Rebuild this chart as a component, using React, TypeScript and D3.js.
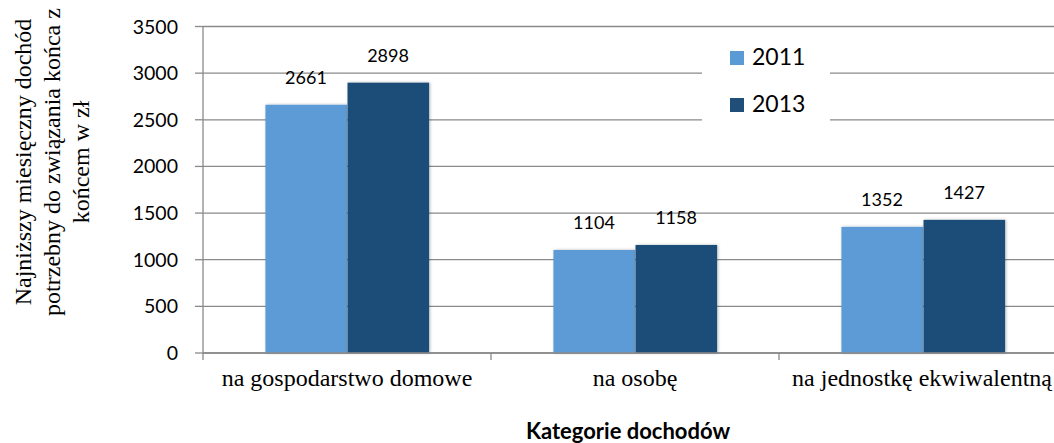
import React from "react";
import * as d3 from "d3";

const categories = ["na gospodarstwo domowe", "na osobę", "na jednostkę ekwiwalentną"];
const seriesNames = ["2011", "2013"];
const values2011 = [2661, 1104, 1352];
const values2013 = [2898, 1158, 1427];
const yTicks = [0, 500, 1000, 1500, 2000, 2500, 3000, 3500];
const yTitleLines = ["Najniższy miesięczny dochód", "potrzebny do związania końca z", "końcem w zł"];
const xTitle = "Kategorie dochodów";
const colors = ["#5B9BD5", "#1F4E79"];

const W = 1054;
const H = 443;
const plotLeft = 203;
const step = 288;
const y0px = 353;
const yTopPx = 26.5;
const grid = "#8a8a8a";
const sans = "Lato, 'Open Sans', sans-serif";
const serif = "'Liberation Serif', 'DejaVu Serif', serif";

export default function App() {
  const x0 = d3
    .scaleBand<string>()
    .domain(categories)
    .range([plotLeft, plotLeft + step * categories.length])
    .paddingInner(0.43)
    .paddingOuter(0.215);
  const x1 = d3.scaleBand<string>().domain(seriesNames).range([0, x0.bandwidth()]).padding(0);
  const y = d3.scaleLinear().domain([0, 3500]).range([y0px, yTopPx]);
  const series = [values2011, values2013];
  const boundaries = d3.range(categories.length + 1).map((i) => plotLeft + i * x0.step());

  return (
    <svg
      width={W}
      height={H}
      style={{ position: "absolute", left: 0, top: 0, display: "block", background: "#fff" }}
    >
      <defs>
        <filter id="sh" x="-20%" y="-20%" width="140%" height="140%">
          <feDropShadow dx="1" dy="0" stdDeviation="1.6" floodColor="#000" floodOpacity="0.28" />
        </filter>
      </defs>
      {yTicks.map((t) => (
        <line key={"g" + t} x1={plotLeft} x2={W} y1={y(t)} y2={y(t)} stroke={grid} strokeWidth={1.3} />
      ))}
      <line x1={plotLeft} x2={plotLeft} y1={y(0)} y2={y(3500)} stroke={grid} strokeWidth={1.3} />
      {yTicks.map((t) => (
        <g key={"t" + t}>
          <line x1={plotLeft - 8} x2={plotLeft} y1={y(t)} y2={y(t)} stroke={grid} strokeWidth={1.3} />
          <text x={178} y={y(t)} dy="0.36em" textAnchor="end" style={{ fontFamily: sans, fontSize: 19.5 }} fill="#000">
            {t}
          </text>
        </g>
      ))}
      {boundaries.map((b, i) => (
        <line key={"xb" + i} x1={b} x2={b} y1={y(0)} y2={y(0) + 7} stroke={grid} strokeWidth={1.3} />
      ))}
      {categories.map((c, ci) => (
        <g key={c} transform={`translate(${x0(c)},0)`}>
          {seriesNames.map((s, si) => (
            <rect
              key={s}
              x={x1(s)! + 0.5}
              y={y(series[si][ci])}
              width={x1.bandwidth() - 0.5}
              height={y(0) - y(series[si][ci])}
              fill={colors[si]}
              filter="url(#sh)"
            />
          ))}
          {seriesNames.map((s, si) => (
            <text
              key={"l" + s}
              x={x1(s)! + x1.bandwidth() / 2}
              y={y(series[si][ci]) - 21}
              textAnchor="middle"
              style={{ fontFamily: sans, fontSize: 18 }}
              fill="#000"
            >
              {series[si][ci]}
            </text>
          ))}
        </g>
      ))}
      <line x1={plotLeft} x2={W} y1={y(0)} y2={y(0)} stroke={grid} strokeWidth={1.3} />
      {categories.map((c, ci) => {
        const cx = x0(c)! + x0.bandwidth() / 2;
        const last = ci === categories.length - 1;
        return (
          <text
            key={"c" + c}
            x={last ? W - 2 : cx}
            y={386}
            textAnchor={last ? "end" : "middle"}
            style={{ fontFamily: serif, fontSize: 24 }}
            fill="#000"
          >
            {c}
          </text>
        );
      })}
      <text x={628} y={439} textAnchor="middle" style={{ fontFamily: sans, fontWeight: 700, fontSize: 22 }} fill="#000">
        {xTitle}
      </text>
      {yTitleLines.map((l, i) => (
        <text
          key={"yt" + i}
          transform={`translate(${23 + i * 29},162) rotate(-90)`}
          textAnchor="middle"
          dy="0.32em"
          style={{ fontFamily: serif, fontSize: 24 }}
          fill="#000"
        >
          {l}
        </text>
      ))}
      <rect x={702} y={34} width={128} height={92} fill="#fff" />
      {seriesNames.map((s, i) => (
        <g key={"lg" + s}>
          <rect x={730} y={51 + i * 47} width={14} height={14} fill={colors[i]} />
          <text x={752} y={65 + i * 47} style={{ fontFamily: sans, fontSize: 23 }} fill="#000">
            {s}
          </text>
        </g>
      ))}
    </svg>
  );
}
